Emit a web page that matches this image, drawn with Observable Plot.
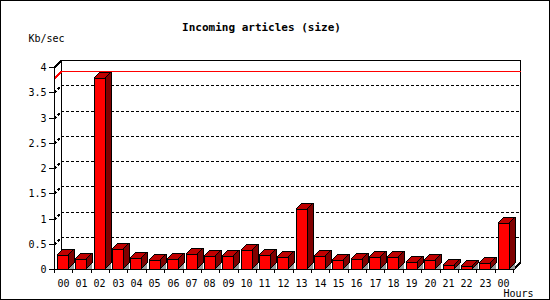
<!DOCTYPE html>
<html>
<head>
<meta charset="utf-8">
<script src="https://cdn.jsdelivr.net/npm/d3@7"></script>
<script src="https://cdn.jsdelivr.net/npm/@observablehq/plot@0.6"></script>
<style>
  html, body { margin: 0; padding: 0; background: #fff; }
  #chart svg { display: block; outline: 1px solid #000; outline-offset: -1px; }
  #chart svg path, #chart svg line, #chart svg rect { shape-rendering: crispEdges; }
</style>
</head>
<body>
<div id="chart"></div>
<script>
// ---- data ----
const chartTitle = "Incoming articles (size)";
const yUnit = "Kb/sec";
const xUnit = "Hours";
const hours = ["00","01","02","03","04","05","06","07","08","09","10","11",
               "12","13","14","15","16","17","18","19","20","21","22","23","00"];
const kbPerSec = [0.28, 0.19, 3.78, 0.39, 0.21, 0.18, 0.20, 0.30, 0.26, 0.26, 0.38, 0.27,
                  0.23, 1.19, 0.26, 0.18, 0.20, 0.23, 0.23, 0.14, 0.18, 0.07, 0.05, 0.12, 0.91];
const yTicks = [0, 0.5, 1, 1.5, 2, 2.5, 3, 3.5, 4];

// ---- layout ----
const W = 550, H = 300, ML = 54, MR = 37, MT = 67, MB = 31;
const n = hours.length;
const pxX = (W - ML - MR) / n;
const pxY = (H - MT - MB) / 4;
const wdx = 7 / pxX, wdy = 7 / pxY;      // back wall depth
const bdx = 6 / pxX, bdy = 6 / pxY;      // bar depth
const a = 3 / pxX, b = 14 / pxX;         // bar front within slot
const maxV = d3.max(kbPerSec);

const bars = kbPerSec.map((v, i) => ({i, v, hour: hours[i]}));
const fronts = bars.map(d => ({i: d.i, x1: d.i + a, x2: d.i + b, y1: 0, y2: d.v}));
const tops = bars.flatMap(d => [
  {i: d.i, y: d.v, x1: d.i + a, x2: d.i + b},
  {i: d.i, y: d.v + bdy, x1: d.i + a + bdx, x2: d.i + b + bdx}
]);
const sides = bars.flatMap(d => [
  {i: d.i, x: d.i + b, y1: 0, y2: d.v},
  {i: d.i, x: d.i + b + bdx, y1: bdy, y2: d.v + bdy}
]);
const shadows = bars.flatMap(d => [
  {i: d.i, x: d.i + b, y1: 0, y2: 0},
  {i: d.i, x: d.i + b + bdx, y1: 0, y2: bdy}
]);
const gridLevels = yTicks.filter(t => t > 0 && t < 4);
const grid = gridLevels.flatMap(v => [
  {g: v, x: 0, y: v}, {g: v, x: wdx, y: v + wdy}, {g: v, x: n + wdx, y: v + wdy}
]);
const maxLine = [{x: 0, y: maxV}, {x: wdx, y: maxV + wdy}, {x: n + wdx, y: maxV + wdy}];
const wall = [
  {x: wdx, y: wdy}, {x: wdx, y: 4 + wdy}, {x: n + wdx, y: 4 + wdy},
  {x: n + wdx, y: wdy}, {x: n, y: 0}
];
const corner = [{x: 0, y: 4}, {x: wdx, y: 4 + wdy}];

const chart = Plot.plot({
  width: W, height: H,
  marginLeft: ML, marginRight: MR, marginTop: MT, marginBottom: MB,
  style: {fontFamily: "DejaVu Sans Mono", fontSize: "10px", background: "#fff", color: "#000"},
  x: {domain: [0, n], round: true, ticks: n, tickFormat: () => "", tickSize: 4, label: null},
  y: {domain: [0, 4], round: true, ticks: 8, tickFormat: d => `${d}`, tickSize: 5, tickPadding: 3, label: null},
  marks: [
    Plot.line(wall, {x: "x", y: "y", stroke: "#000"}),
    Plot.line(corner, {x: "x", y: "y", stroke: "#000"}),
    Plot.line(grid, {x: "x", y: "y", z: "g", stroke: "#000", strokeDasharray: "2,3"}),
    Plot.line(maxLine, {x: "x", y: "y", stroke: "#ff0000"}),
    Plot.areaY(shadows, {x: "x", y1: "y1", y2: "y2", z: "i", fill: "#999999"}),
    Plot.rect(fronts, {x1: "x1", x2: "x2", y1: "y1", y2: "y2", fill: "#ff0000", stroke: "#000"}),
    Plot.areaY(sides, {x: "x", y1: "y1", y2: "y2", z: "i", fill: "#800000", stroke: "#000"}),
    Plot.areaX(tops, {y: "y", x1: "x1", x2: "x2", z: "i", fill: "#c00000", stroke: "#000"}),
    Plot.ruleX([0], {stroke: "#000"}),
    Plot.ruleY([0], {stroke: "#000"}),
    Plot.text(bars, {x: d => d.i + (a + b) / 2, y: 0, text: "hour", dy: 14}),
    Plot.text([chartTitle], {frameAnchor: "top", text: d => d, dx: -22.5, dy: -37, lineAnchor: "bottom", fontWeight: "bold", fontSize: 11}),
    Plot.text([yUnit], {frameAnchor: "top-left", text: d => d, dx: -26, dy: -26, lineAnchor: "bottom", textAnchor: "start"}),
    Plot.text([xUnit], {frameAnchor: "bottom-right", text: d => d, dx: -10, dy: 27, lineAnchor: "bottom", textAnchor: "start"})
  ]
});
document.getElementById("chart").append(chart);
</script>
</body>
</html>
